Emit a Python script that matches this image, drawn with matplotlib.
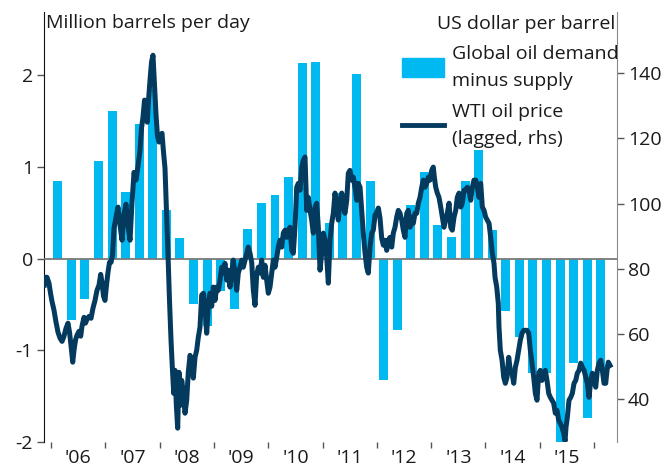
import matplotlib.pyplot as plt
from matplotlib.patches import Patch
from matplotlib.lines import Line2D
import numpy as np

plt.rcParams["font.family"] = ["Open Sans", "DejaVu Sans"]
plt.rcParams["axes.unicode_minus"] = False

BAR = "#00b9f1"
LINE = "#033a5e"
TXT = "#1a1a1a"
FS = 14

# global oil demand minus supply, quarterly 2006Q1 .. 2016Q1 (mb/d)
balance = [0.85, -0.665, -0.44, 1.06,
           1.61, 0.73, 1.47, 1.85,
           0.53, 0.22, -0.49, -0.73,
           -0.35, -0.55, 0.32, 0.61,
           0.69, 0.895, 2.13, 2.15,
           0.39, 0.72, 2.01, 0.85,
           -1.32, -0.775, 0.59, 0.95,
           0.37, 0.24, 0.85, 1.18,
           0.31, -0.575, -0.86, -1.25,
           -1.25, -2.0, -1.14, -1.74,
           -1.2]
bar_dates = 2006.125 + 0.25 * np.arange(len(balance))

# WTI oil price, lagged (USD per barrel)
wti_dates = [
    2005.877, 2005.899, 2005.926, 2005.963, 2005.991, 2006.018, 2006.055, 2006.092, 2006.129, 2006.166,
    2006.203, 2006.239, 2006.276, 2006.313, 2006.341, 2006.368, 2006.400, 2006.424, 2006.451, 2006.479,
    2006.516, 2006.547, 2006.571, 2006.608, 2006.635, 2006.663, 2006.700, 2006.737, 2006.773, 2006.810,
    2006.847, 2006.884, 2006.915, 2006.939, 2006.967, 2006.994, 2007.022, 2007.050, 2007.077, 2007.105,
    2007.133, 2007.160, 2007.197, 2007.234, 2007.271, 2007.308, 2007.344, 2007.381, 2007.418, 2007.455,
    2007.492, 2007.529, 2007.565, 2007.602, 2007.639, 2007.667, 2007.694, 2007.722, 2007.750, 2007.773,
    2007.796, 2007.823, 2007.851, 2007.878, 2007.906, 2007.934, 2007.961, 2007.989, 2008.017, 2008.044,
    2008.072, 2008.099, 2008.127, 2008.155, 2008.182, 2008.210, 2008.234, 2008.260, 2008.284, 2008.308,
    2008.333, 2008.357, 2008.381, 2008.407, 2008.436, 2008.468, 2008.499, 2008.528, 2008.560, 2008.591,
    2008.621, 2008.652, 2008.683, 2008.713, 2008.744, 2008.775, 2008.805, 2008.836, 2008.867, 2008.897,
    2008.928, 2008.959, 2008.989, 2009.020, 2009.052, 2009.081, 2009.112, 2009.144, 2009.173, 2009.204,
    2009.236, 2009.265, 2009.296, 2009.328, 2009.357, 2009.389, 2009.420, 2009.449, 2009.481, 2009.512,
    2009.541, 2009.573, 2009.604, 2009.633, 2009.665, 2009.696, 2009.726, 2009.757, 2009.788, 2009.818,
    2009.849, 2009.880, 2009.910, 2009.941, 2009.972, 2010.002, 2010.033, 2010.064, 2010.094, 2010.125,
    2010.157, 2010.186, 2010.217, 2010.249, 2010.278, 2010.309, 2010.341, 2010.370, 2010.401, 2010.433,
    2010.462, 2010.493, 2010.525, 2010.554, 2010.586, 2010.617, 2010.646, 2010.678, 2010.691, 2010.709,
    2010.738, 2010.770, 2010.801, 2010.830, 2010.862, 2010.893, 2010.923, 2010.954, 2010.985, 2011.015,
    2011.046, 2011.077, 2011.107, 2011.138, 2011.169, 2011.199, 2011.230, 2011.261, 2011.291, 2011.322,
    2011.354, 2011.383, 2011.414, 2011.446, 2011.475, 2011.506, 2011.538, 2011.567, 2011.598, 2011.630,
    2011.659, 2011.691, 2011.722, 2011.751, 2011.783, 2011.814, 2011.843, 2011.875, 2011.906, 2011.935,
    2011.967, 2011.998, 2012.028, 2012.059, 2012.090, 2012.120, 2012.151, 2012.182, 2012.212, 2012.243,
    2012.274, 2012.304, 2012.335, 2012.366, 2012.396, 2012.427, 2012.459, 2012.488, 2012.519, 2012.551,
    2012.580, 2012.611, 2012.643, 2012.672, 2012.703, 2012.735, 2012.764, 2012.796, 2012.827, 2012.856,
    2012.888, 2012.919, 2012.948, 2012.980, 2013.011, 2013.040, 2013.059, 2013.085, 2013.114, 2013.145,
    2013.177, 2013.206, 2013.237, 2013.269, 2013.298, 2013.330, 2013.361, 2013.390, 2013.422, 2013.453,
    2013.482, 2013.514, 2013.545, 2013.574, 2013.606, 2013.637, 2013.667, 2013.698, 2013.729, 2013.759,
    2013.790, 2013.821, 2013.851, 2013.882, 2013.913, 2013.943, 2013.974, 2014.005, 2014.035, 2014.066,
    2014.097, 2014.127, 2014.158, 2014.177, 2014.208, 2014.237, 2014.250, 2014.274, 2014.306, 2014.337,
    2014.367, 2014.398, 2014.429, 2014.458, 2014.490, 2014.521, 2014.551, 2014.582, 2014.613, 2014.643,
    2014.674, 2014.705, 2014.735, 2014.766, 2014.797, 2014.827, 2014.858, 2014.889, 2014.919, 2014.950,
    2014.981, 2015.011, 2015.042, 2015.073, 2015.103, 2015.134, 2015.165, 2015.195, 2015.226, 2015.257,
    2015.287, 2015.318, 2015.350, 2015.379, 2015.410, 2015.442, 2015.466, 2015.484, 2015.508, 2015.539,
    2015.571, 2015.600, 2015.632, 2015.663, 2015.692, 2015.724, 2015.755, 2015.785, 2015.816, 2015.847,
    2015.877, 2015.908, 2015.939, 2015.969, 2016.000, 2016.031, 2016.061, 2016.092, 2016.123, 2016.153,
    2016.184, 2016.215, 2016.245, 2016.263, 2016.295]
wti_price = [
    74.9, 77.3, 77.3, 75.5, 72.4, 69.9, 67.2, 63.5, 60.4, 58.6,
    57.6, 59.2, 61.6, 63.2, 60.4, 56.4, 51.2, 54.9, 58.0, 59.5,
    60.7, 59.2, 62.3, 65.0, 63.2, 64.4, 65.3, 64.7, 67.8, 70.2,
    73.3, 74.9, 78.2, 75.8, 71.5, 70.2, 74.9, 78.9, 81.9, 81.9,
    84.1, 92.4, 95.8, 98.9, 93.3, 88.7, 96.7, 99.8, 93.3, 88.7,
    100.4, 109.6, 107.2, 111.5, 116.4, 123.2, 126.6, 131.8, 130.9, 125.0,
    131.8, 137.9, 143.5, 145.6, 136.4, 127.2, 120.7, 118.9, 120.7, 121.6,
    115.8, 110.9, 97.9, 84.1, 70.2, 58.0, 49.6, 41.6, 48.7, 37.9,
    30.9, 48.1, 37.9, 45.6, 42.0, 35.5, 39.5, 48.1, 53.3, 51.8,
    46.3, 52.7, 54.9, 58.9, 62.0, 71.8, 72.4, 68.7, 60.1, 68.4,
    72.4, 68.4, 74.3, 70.2, 74.3, 73.3, 76.4, 80.4, 78.6, 81.6,
    76.4, 79.5, 74.3, 78.6, 82.6, 78.6, 73.3, 78.6, 80.4, 82.6,
    80.4, 82.6, 84.7, 86.6, 84.7, 81.9, 73.3, 68.7, 78.2, 80.4,
    78.6, 82.6, 77.3, 81.0, 76.4, 72.4, 74.3, 78.6, 82.6, 80.4,
    83.5, 86.6, 88.7, 86.6, 90.9, 91.8, 89.6, 91.8, 92.7, 85.6,
    84.7, 92.7, 105.0, 106.2, 104.1, 111.2, 113.3, 114.3, 107.2, 97.9,
    101.9, 97.9, 94.9, 90.9, 98.9, 100.1, 92.7, 79.5, 84.7, 90.9,
    88.7, 83.5, 75.5, 88.7, 93.9, 97.0, 103.2, 98.9, 94.9, 101.0,
    103.2, 98.9, 97.0, 101.0, 109.3, 110.2, 107.2, 108.1, 105.0, 101.0,
    106.2, 105.0, 97.9, 90.9, 84.7, 80.4, 78.6, 86.6, 90.9, 91.8,
    96.4, 97.3, 98.6, 95.5, 89.3, 87.2, 88.7, 85.6, 88.7, 89.6,
    86.6, 90.9, 92.7, 95.8, 97.9, 97.0, 94.9, 91.8, 89.6, 97.0,
    97.9, 92.7, 95.8, 93.9, 97.0, 97.0, 100.1, 101.9, 105.0, 107.2,
    105.0, 106.2, 108.1, 107.2, 110.2, 111.2, 108.1, 105.0, 103.2, 101.9,
    98.9, 95.8, 92.7, 94.9, 97.0, 100.1, 92.7, 91.8, 95.8, 97.9,
    101.9, 103.2, 98.9, 100.1, 104.1, 104.1, 105.0, 104.1, 101.0, 105.0,
    107.2, 107.2, 105.0, 101.9, 106.2, 98.9, 97.9, 95.8, 94.9, 93.9,
    89.6, 84.7, 81.6, 77.3, 74.3, 69.3, 62.0, 54.9, 51.8, 46.6,
    44.7, 46.6, 52.7, 48.7, 47.8, 44.7, 49.6, 51.8, 54.9, 58.0,
    60.1, 61.0, 61.0, 61.0, 60.1, 54.9, 50.9, 46.6, 41.6, 39.5,
    47.8, 48.7, 45.6, 47.8, 48.7, 45.6, 41.6, 40.4, 39.5, 38.6,
    35.5, 36.4, 33.3, 32.4, 31.2, 29.3, 26.9, 31.2, 34.2, 39.5,
    40.4, 41.6, 44.7, 45.6, 47.8, 48.7, 50.9, 49.6, 48.7, 46.6,
    44.7, 40.4, 45.6, 47.8, 45.6, 43.5, 48.7, 50.9, 51.8, 48.7,
    44.7, 44.7, 49.6, 51.2, 50.2]

years = list(range(2006, 2017))
year_labels = ["'06", "'07", "'08", "'09", "'10", "'11", "'12", "'13", "'14", "'15"]
left_ticks = [-2, -1, 0, 1, 2]
right_ticks = [40, 60, 80, 100, 120, 140]

fig = plt.figure(figsize=(6.65, 4.72), dpi=100)
ax = fig.add_axes([44 / 665, 1 - 442 / 472, 573 / 665, 430 / 472])

ax.bar(bar_dates, balance, width=0.165, color=BAR, zorder=2)
ax.axhline(0, color="#7a7a7a", lw=1.3, zorder=3)
ax.set_xlim(2005.871, 2016.423)
ax.set_ylim(-2, 2.69)
ax.set_yticks(left_ticks)
ax.set_yticklabels([str(t) for t in left_ticks])

ax.set_xticks(years)
ax.set_xticklabels([])
ax.set_xticks([y + 0.5 for y in years[:-1]], minor=True)
ax.set_xticklabels(year_labels, minor=True)
ax.tick_params(axis="x", which="major", direction="out", length=4, width=1, color="#555555")
ax.tick_params(axis="x", which="minor", length=0, pad=5, labelsize=FS, labelcolor=TXT)
ax.tick_params(axis="y", direction="out", length=5, width=1, color="#555555", pad=3,
               labelsize=FS, labelcolor=TXT)

for s in ["top", "bottom", "right"]:
    ax.spines[s].set_visible(False)
ax.spines["left"].set_color("#111111")

ax2 = ax.twinx()
ax2.plot(wti_dates, wti_price, color=LINE, lw=3.6, solid_joinstyle="round", zorder=4)
ax2.set_ylim(26.65, 158.9)
ax2.set_yticks(right_ticks)
ax2.set_yticklabels([str(t) for t in right_ticks])
ax2.tick_params(axis="y", direction="out", length=5, width=1, color="#555555", pad=3,
                labelsize=FS, labelcolor=TXT)
for s in ["top", "bottom", "left"]:
    ax2.spines[s].set_visible(False)
ax2.spines["right"].set_color("#8a8a8a")

handles = [Patch(color=BAR), Line2D([], [], color=LINE, lw=3.5)]
leg = ax2.legend(handles, ["Global oil demand\nminus supply", "WTI oil price\n(lagged, rhs)"],
                 loc="upper left", bbox_to_anchor=(401.7 / 665, 1 - 45 / 472),
                 bbox_transform=fig.transFigure, frameon=False, borderpad=0,
                 borderaxespad=0, handlelength=2.15, handleheight=1.1,
                 handletextpad=0.42, labelspacing=0.7, fontsize=FS)
for t in leg.get_texts():
    t.set_color(TXT)
    t.set_linespacing(1.62)

fig.text(46 / 665, 1 - 28.5 / 472, "Million barrels per day", ha="left", va="baseline",
         fontsize=FS, color=TXT)
fig.text(615 / 665, 1 - 29 / 472, "US dollar per barrel", ha="right", va="baseline",
         fontsize=FS, color=TXT)

fig.savefig("out.png", dpi=100)
